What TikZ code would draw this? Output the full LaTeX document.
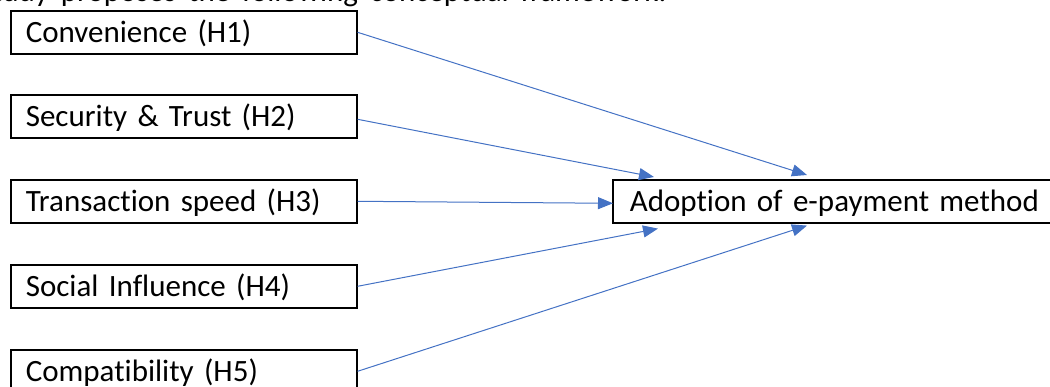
\documentclass[tikz,border=0pt]{standalone}
\usepackage{fontspec}
\setmainfont{Carlito}[Ligatures=NoCommon]
\usetikzlibrary{arrows.meta,calc}
\definecolor{officeblue}{HTML}{4472C4}
\tikzset{
  box/.style={draw=black, line width=1.6pt, rectangle, anchor=north west,
    minimum height=43pt, inner xsep=15pt, inner ysep=0pt, align=left,
    text height=24pt, text depth=3pt, font=\fontsize{31}{37}\selectfont},
  srcbox/.style={box, minimum width=346pt, text width=316pt},
  link/.style={draw=officeblue, line width=1pt, -{Triangle[length=15pt,width=12pt]}}
}
\begin{document}
\begin{tikzpicture}[x=1pt,y=-1pt]
\useasboundingbox (0,0) rectangle (1050,387);
\clip (0,0) rectangle (1050,387);
\node[anchor=base east, inner sep=0pt, font=\fontsize{31}{37}\selectfont] (cap) at (667,2) {\spaceskip=12pt\relax study proposes the following conceptual framework:};
\node[srcbox] (h1) at (10,10) {Convenience (H1)};
\node[srcbox] (h2) at (10,94) {Security \& Trust (H2)};
\node[srcbox] (h3) at (10,179) {Transaction speed (H3)};
\node[srcbox] (h4) at (10,264) {Social Influence (H4)};
\node[srcbox] (h5) at (10,349) {Compatibility (H5)};
\node[box, minimum width=470pt, text width=436pt, inner xsep=13pt] (t) at (612,179) {Adoption of e-payment method};
\coordinate (e1) at ($(t.north west)+(195,-4)$);
\coordinate (e2) at ($(t.north west)+(42,-2)$);
\coordinate (e3) at ($(t.west)+(1,2)$);
\coordinate (e4) at ($(t.south west)+(46,5)$);
\coordinate (e5) at ($(t.south west)+(195,2)$);
\draw[link] (h1.east) -- (e1);
\draw[link] ($(h2.east)+(0,3)$) -- (e2);
\draw[link] (h3.east) -- (e3);
\draw[link] (h4.east) -- (e4);
\draw[link] (h5.east) -- (e5);
\end{tikzpicture}
\end{document}
